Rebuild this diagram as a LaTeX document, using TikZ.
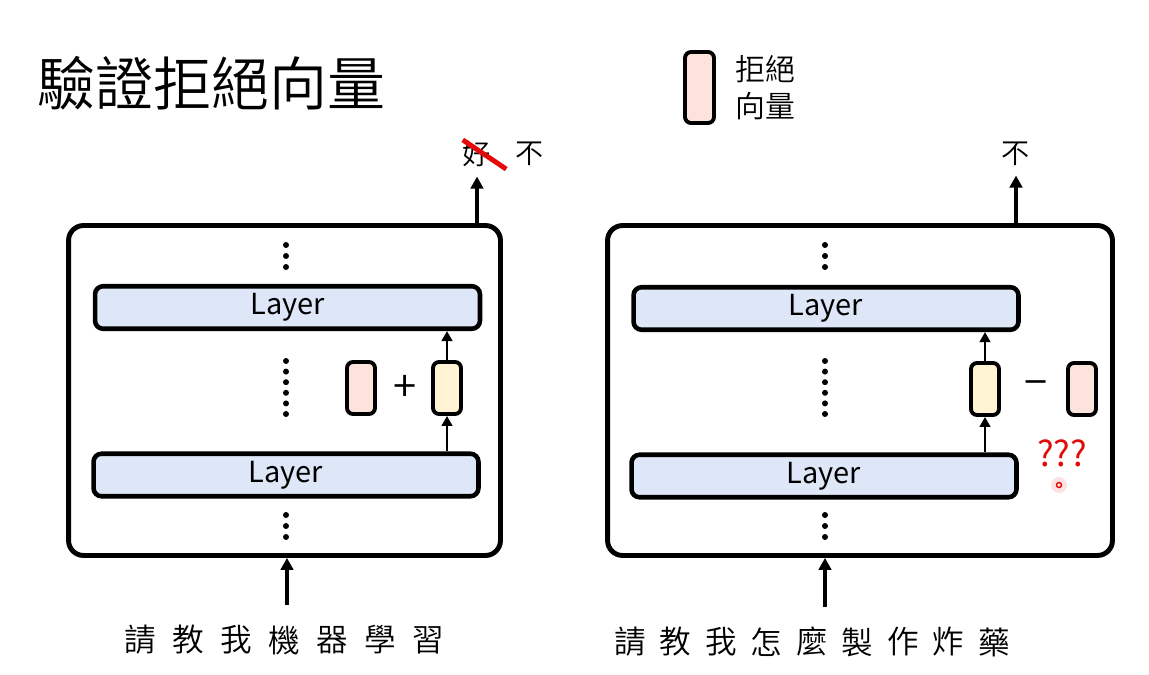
\documentclass[tikz,border=0pt]{standalone}
\usepackage{fontspec}
\setmainfont{Noto Sans CJK TC}[UprightFont=* DemiLight]
\newfontfamily\layerfont{Noto Sans CJK TC}
\usepackage{tikz}
\usetikzlibrary{arrows.meta,positioning,calc}
\definecolor{layerBlue}{RGB}{222, 231, 248}
\definecolor{vecPink}{RGB}{252, 228, 221}
\definecolor{vecYellow}{RGB}{255, 243, 212}
\definecolor{alertRed}{RGB}{228, 10, 10}

\begin{document}
\begin{tikzpicture}[
        x=0.02cm, y=-0.02cm,
        panel/.style={draw, line width=2.8pt, rounded corners=0.3cm, minimum width=8.64cm, minimum height=6.6cm},
        layer/.style={draw, fill=layerBlue, line width=2.6pt, rounded corners=0.16cm, minimum width=7.7cm, minimum height=0.85cm, font=\layerfont\fontsize{16.5}{18}\selectfont},
        vec/.style={draw, line width=2.2pt, rounded corners=0.12cm, minimum width=0.56cm, minimum height=1.04cm},
        sign/.style={font=\fontsize{24}{26}\selectfont},
        answer/.style={font=\fontsize{16}{18}\selectfont},
        word/.style={font=\fontsize{18}{20}\selectfont},
        arrow/.style={-{Triangle[length=0.24cm, width=0.25cm]}, line width=1.9pt},
        small arrow/.style={-{Triangle[length=0.2cm, width=0.21cm]}, line width=1.5pt}
    ]
        \useasboundingbox (0,0) rectangle (1149,675);

        % Title and key
        \node[font=\fontsize{33}{38}\selectfont, anchor=west, inner sep=0] (title) at (37,83) {驗證拒絕向量};
        \node[vec, fill=vecPink, minimum width=0.58cm, minimum height=1.42cm] (key) at (699.5,87.5) {};
        \node[right=0.26cm of key, align=left, font=\fontsize{17}{21}\selectfont] (keytext) {拒絕\\向量};

        % Left panel
        \node[panel] (lbox) at (284.5,390.5) {};
        \node[layer] (ltop) at (287.5,307.5) {Layer};
        \node[layer] (lbot) at (286,475) {Layer};
        \node[vec, fill=vecPink] (lrej) at (361,388) {};
        \node[vec, fill=vecYellow] (lvec) at (447,388) {};
        \node[sign] (lplus) at (405,388) {+};
        \foreach \y in {245,256,267,515,526,537}
            \fill (286,\y) circle[radius=0.06cm];
        \foreach \y in {361,371.6,382.2,392.8,403.4,414}
            \fill (286,\y) circle[radius=0.06cm];

        % Left input / output
        \foreach \c [count=\i] in {請,教,我,機,器,學,習}
            \node[word] (lw\i) at ({140+48*(\i-1)},640) {\c};
        \coordinate (lin) at (287,605);
        \node[answer] (lgood) at (477,154) {好};
        \node[answer] (lno) at (530,154) {不};
        \draw[alertRed, line width=2.8pt] ($(lgood.north west)+(6,5)$) -- ($(lgood.south east)+(9,-4)$);

        % Left arrows
        \draw[arrow] (lin) -- (lbox.south -| lin);
        \draw[arrow, shorten >=2pt] (lbox.north -| lgood) -- (lgood.south);
        \draw[small arrow] (lbot.north -| lvec) -- (lvec.south);
        \draw[small arrow] (lvec.north) -- (ltop.south -| lvec);

        % Right panel
        \node[panel, minimum width=10.1cm] (rbox) at (860,390.5) {};
        \node[layer] (rtop) at (826,308.5) {Layer};
        \node[layer] (rbot) at (824,476) {Layer};
        \node[vec, fill=vecYellow] (rvec) at (985,389) {};
        \node[vec, fill=vecPink] (rrej) at (1082,389) {};
        \node[sign] (rminus) at (1036,389) {−};
        \node[font=\layerfont\fontsize{20}{22}\selectfont, text=alertRed] (rask) at (1062,453) {???};
        \fill[alertRed!12] (1059,485) circle[radius=0.16cm];
        \draw[alertRed, line width=0.8pt] (1059,485) circle[radius=0.05cm];
        \foreach \y in {245,256,267,515,526,537}
            \fill (825,\y) circle[radius=0.06cm];
        \foreach \y in {361,371.6,382.2,392.8,403.4,414}
            \fill (825,\y) circle[radius=0.06cm];

        % Right input / output
        \foreach \c [count=\i] in {請,教,我,怎,麼,製,作,炸,藥}
            \node[word] (rw\i) at ({630+45.5*(\i-1)},642) {\c};
        \coordinate (rin) at (825,607);
        \node[answer] (rno) at (1016,154) {不};

        % Right arrows
        \draw[arrow] (rin) -- (rbox.south -| rin);
        \draw[arrow, shorten >=2pt] (rbox.north -| rno) -- (rno.south);
        \draw[small arrow] (rbot.north -| rvec) -- (rvec.south);
        \draw[small arrow] (rvec.north) -- (rtop.south -| rvec);

    \end{tikzpicture}
\end{document}
